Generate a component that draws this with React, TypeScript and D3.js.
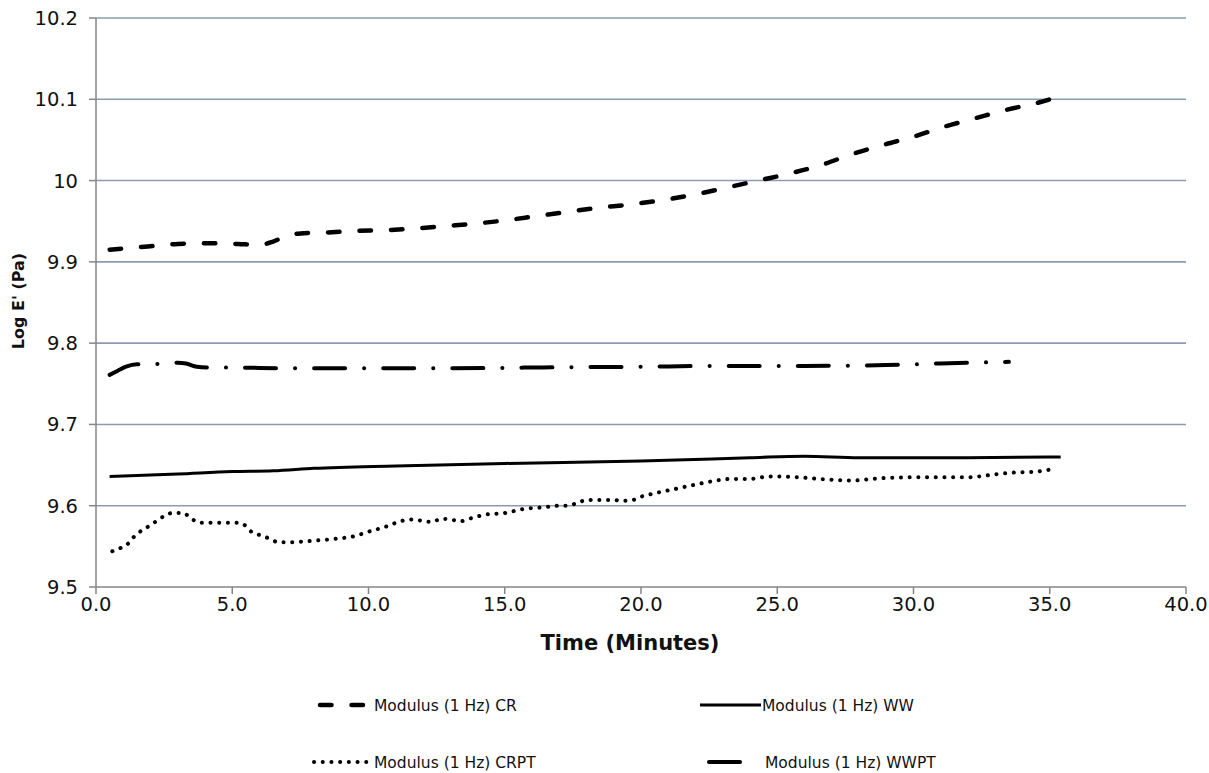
import React from 'react';
import * as d3 from 'd3';

// Modulus (1 Hz) CR - dashed
const crTime = [0.5, 1.9, 3.0, 4.2, 5.2, 6.0, 6.5, 7.0, 7.5, 8.4, 9.5, 10.6, 11.7, 12.8, 13.9, 15.0, 16.1, 17.2, 18.3, 19.7, 20.8, 22.0, 23.1, 24.3, 25.5, 26.6, 27.7, 28.9, 30.0, 31.1, 32.3, 33.4, 34.6, 35.0];
const crValue = [9.915, 9.919, 9.922, 9.923, 9.922, 9.921, 9.925, 9.932, 9.935, 9.936, 9.938, 9.939, 9.941, 9.944, 9.947, 9.951, 9.956, 9.961, 9.966, 9.971, 9.976, 9.983, 9.991, 10.0, 10.009, 10.019, 10.032, 10.044, 10.054, 10.066, 10.077, 10.087, 10.096, 10.1];

// Modulus (1 Hz) WWPT - long dash dot
const wwptTime = [0.5, 0.8, 1.1, 1.5, 2.0, 2.5, 3.0, 3.3, 3.7, 4.2, 5.0, 7.0, 10.0, 13.0, 16.0, 20.0, 23.0, 26.0, 29.0, 31.0, 33.5];
const wwptValue = [9.761, 9.766, 9.771, 9.774, 9.774, 9.775, 9.776, 9.775, 9.771, 9.770, 9.770, 9.769, 9.769, 9.769, 9.770, 9.771, 9.772, 9.772, 9.773, 9.775, 9.777];

// Modulus (1 Hz) WW - solid
const wwTime = [0.5, 3.0, 5.0, 6.5, 8.0, 11.0, 15.0, 20.0, 24.0, 26.0, 28.0, 32.0, 35.4];
const wwValue = [9.636, 9.639, 9.642, 9.643, 9.646, 9.649, 9.652, 9.655, 9.659, 9.661, 9.659, 9.659, 9.66];

// Modulus (1 Hz) CRPT - dotted
const crptTime = [0.6, 0.9, 1.2, 1.4, 1.7, 2.0, 2.3, 2.6, 2.8, 3.2, 3.5, 3.8, 4.1, 4.7, 5.2, 5.5, 5.7, 6.1, 6.4, 6.7, 7.0, 8.0, 8.7, 9.4, 10.1, 10.7, 11.0, 11.6, 12.3, 12.7, 13.0, 13.4, 13.7, 14.3, 15.0, 15.7, 16.4, 17.0, 17.3, 17.7, 18.0, 19.0, 19.3, 19.7, 20.0, 20.6, 21.3, 22.0, 22.6, 23.3, 24.0, 24.7, 25.0, 27.0, 27.7, 28.9, 30.1, 32.0, 32.4, 33.1, 33.8, 34.5, 35.1];
const crptValue = [9.544, 9.548, 9.554, 9.562, 9.57, 9.576, 9.583, 9.589, 9.591, 9.591, 9.584, 9.579, 9.579, 9.579, 9.579, 9.575, 9.568, 9.563, 9.559, 9.555, 9.555, 9.557, 9.559, 9.562, 9.569, 9.575, 9.579, 9.583, 9.58, 9.584, 9.583, 9.581, 9.584, 9.589, 9.591, 9.596, 9.598, 9.6, 9.6, 9.604, 9.607, 9.607, 9.606, 9.607, 9.611, 9.616, 9.621, 9.626, 9.63, 9.633, 9.633, 9.636, 9.636, 9.632, 9.631, 9.634, 9.635, 9.635, 9.636, 9.639, 9.641, 9.642, 9.645];

const xTicks = [0, 5, 10, 15, 20, 25, 30, 35, 40];
const yTicks = [9.5, 9.6, 9.7, 9.8, 9.9, 10.0, 10.1, 10.2];
const yTickLabels = ['9.5', '9.6', '9.7', '9.8', '9.9', '10', '10.1', '10.2'];

const W = 1209;
const H = 773;
const plot = { left: 96, right: 1186, top: 18, bottom: 587 };

const FONT = '"DejaVu Sans", Verdana, sans-serif';
const GRID = '#8c9bb0';
const AXIS = '#868686';

const styleCR = { width: 4.5, dash: '11.5 20', cap: 'round' };
const styleWW = { width: 3, dash: null, cap: 'butt' };
const styleCRPT = { width: 4, dash: '0.1 8.6', cap: 'round' };
const styleWWPT = { width: 4, dash: '31 19 0.1 19', cap: 'round' };

const zip = (t: number[], v: number[]) => t.map((d, i) => ({ t: d, v: v[i] }));

export default function App() {
  const x = d3.scaleLinear().domain([0, 40]).range([plot.left, plot.right]);
  const y = d3.scaleLinear().domain([9.5, 10.2]).range([plot.bottom, plot.top]);

  const line = d3
    .line<{ t: number; v: number }>()
    .x((d) => x(d.t))
    .y((d) => y(d.v))
    .curve(d3.curveMonotoneX);

  const series = [
    { data: zip(crTime, crValue), s: styleCR },
    { data: zip(wwptTime, wwptValue), s: styleWWPT },
    { data: zip(wwTime, wwValue), s: styleWW },
    { data: zip(crptTime, crptValue), s: styleCRPT },
  ];

  const legend = [
    { label: 'Modulus (1 Hz) CR', s: styleCR, x1: 320, x2: 370, tx: 374, y: 705 },
    { label: 'Modulus (1 Hz) WW', s: styleWW, x1: 700, x2: 761, tx: 762, y: 705 },
    { label: 'Modulus (1 Hz) CRPT', s: styleCRPT, x1: 314, x2: 372, tx: 374, y: 762 },
    { label: 'Modulus (1 Hz) WWPT', s: styleWWPT, x1: 709, x2: 740, tx: 765, y: 762 },
  ];

  return (
    <>
      <style>{`body{margin:0;background:#fff}`}</style>
      <svg width={W} height={H} style={{ display: 'block', background: '#fff' }}>
        {/* grid lines */}
        {yTicks.map((t) =>
          t === 9.5 ? null : (
            <line key={t} x1={plot.left} x2={plot.right} y1={y(t)} y2={y(t)} stroke={GRID} strokeWidth={1.6} />
          ),
        )}
        {/* y ticks */}
        {yTicks.map((t) => (
          <line key={'yt' + t} x1={plot.left - 7} x2={plot.left} y1={y(t)} y2={y(t)} stroke={AXIS} strokeWidth={1.5} />
        ))}
        {yTicks.map((t, i) => (
          <text key={'yl' + t} x={78} y={y(t) + 7} textAnchor="end" fontFamily={FONT} fontSize={19.5} fill="#111">
            {yTickLabels[i]}
          </text>
        ))}
        {/* axes */}
        <line x1={plot.left} x2={plot.left} y1={plot.top} y2={plot.bottom} stroke={AXIS} strokeWidth={1.5} />
        <line x1={plot.left} x2={plot.right} y1={plot.bottom} y2={plot.bottom} stroke={AXIS} strokeWidth={1.5} />
        {xTicks.map((t) => (
          <line key={'xt' + t} x1={x(t)} x2={x(t)} y1={plot.bottom} y2={plot.bottom + 7} stroke={AXIS} strokeWidth={1.5} />
        ))}
        {xTicks.map((t) => (
          <text key={'xl' + t} x={x(t)} y={611} textAnchor="middle" fontFamily={FONT} fontSize={19.5} fill="#111">
            {t.toFixed(1)}
          </text>
        ))}
        {/* axis titles */}
        <text x={630} y={650} textAnchor="middle" fontFamily={FONT} fontSize={21} fontWeight="bold" fill="#111">
          Time (Minutes)
        </text>
        <text
          transform={`translate(24,301) rotate(-90)`}
          textAnchor="middle"
          fontFamily={FONT}
          fontSize={16}
          fontWeight="bold"
          fill="#111"
        >
          Log E' (Pa)
        </text>
        {/* series */}
        {series.map((sr, i) => (
          <path
            key={i}
            d={line(sr.data) || ''}
            fill="none"
            stroke="#000"
            strokeWidth={sr.s.width}
            strokeDasharray={sr.s.dash || undefined}
            strokeLinecap={sr.s.cap as any}
            strokeLinejoin="round"
          />
        ))}
        {/* legend */}
        {legend.map((l) => (
          <g key={l.label}>
            <line
              x1={l.x1}
              x2={l.x2}
              y1={l.y}
              y2={l.y}
              stroke="#000"
              strokeWidth={l.s.width}
              strokeDasharray={l.s === styleWWPT ? undefined : l.s.dash || undefined}
              strokeLinecap={l.s.cap as any}
            />
            <text x={l.tx} y={l.y + 6} fontFamily={FONT} fontSize={15.5} fill="#111">
              {l.label}
            </text>
          </g>
        ))}
      </svg>
    </>
  );
}
